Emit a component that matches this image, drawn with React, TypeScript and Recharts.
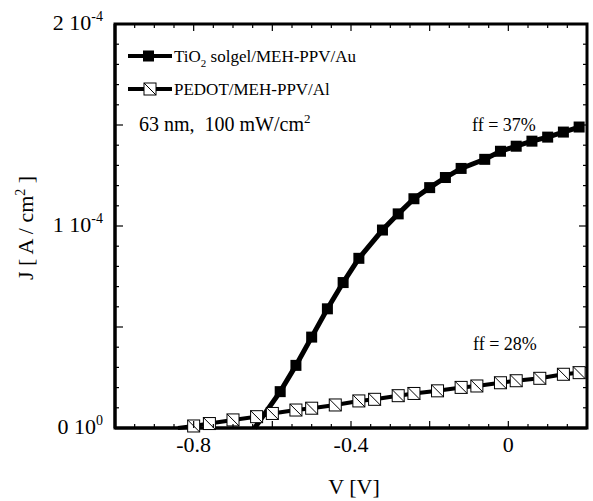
import React from 'react';
import { LineChart, Line, XAxis, YAxis, Customized } from 'recharts';

const FONT = '"Liberation Serif", "Times New Roman", Times, serif';

// Voltage [V] and current density [10^-4 A/cm^2]
const tio2V = [-0.645, -0.58, -0.54, -0.5, -0.46, -0.42, -0.38, -0.32, -0.28, -0.24, -0.2, -0.16, -0.12, -0.06, -0.02, 0.02, 0.06, 0.1, 0.14, 0.18];
const tio2J = [0, 0.18, 0.31, 0.45, 0.59, 0.72, 0.84, 0.98, 1.06, 1.135, 1.19, 1.24, 1.285, 1.33, 1.37, 1.395, 1.42, 1.44, 1.465, 1.49];

const pedotV = [-0.84, -0.8, -0.76, -0.7, -0.64, -0.6, -0.54, -0.5, -0.44, -0.38, -0.34, -0.28, -0.24, -0.18, -0.12, -0.08, -0.02, 0.02, 0.08, 0.14, 0.18];
const pedotJ = [0, 0.01, 0.022, 0.04, 0.056, 0.072, 0.089, 0.098, 0.114, 0.134, 0.142, 0.16, 0.171, 0.184, 0.201, 0.208, 0.224, 0.234, 0.246, 0.266, 0.274];

const seriesNames = ['TiO', 'PEDOT/MEH-PPV/Al'];
const annotations = ['63 nm,\u00A0 100 mW/cm', 'ff = 37%', 'ff = 28%'];

const X_DOMAIN = [-1, 0.2];
const Y_DOMAIN = [0, 2];
const xTicks = Array.from({ length: 25 }, (_, i) => Math.round((-1 + i * 0.05) * 100) / 100);
const xLabels = [
  { v: -0.8, text: '-0.8' },
  { v: -0.4, text: '-0.4' },
  { v: 0, text: '0' },
];
const yTicks = Array.from({ length: 21 }, (_, i) => Math.round(i * 0.1 * 10) / 10);
const yLabels = [
  { v: 0, base: '0 10', exp: '0' },
  { v: 1, base: '1 10', exp: '-4' },
  { v: 2, base: '2 10', exp: '-4' },
];

const tio2Data = tio2V.map((v, i) => ({ v, j: tio2J[i] }));
const pedotData = pedotV.map((v, i) => ({ v, j: pedotJ[i] }));

const W = 593;
const H = 501;
const PLOT_L = 115;
const PLOT_T = 24;
const PLOT_W = 472;
const PLOT_H = 404;

const near = (a: number, b: number) => Math.abs(a - b) < 1e-6;
const isXMajor = (v: number) => near(Math.round(v * 5), v * 5);
const isYMajor = (v: number) => near(Math.round(v * 2), v * 2);

const XTick = (props: any) => {
  const { x, y, payload } = props;
  const v = payload.value;
  const len = isXMajor(v) ? 7 : 4;
  const lab = xLabels.find((l) => near(l.v, v));
  return (
    <g>
      <line x1={x} x2={x} y1={y} y2={y - len} stroke="#000" strokeWidth={1.2} />
      {lab && (
        <text x={x} y={y + 24} textAnchor="middle" fontFamily={FONT} fontSize={22} fill="#000">
          {lab.text}
        </text>
      )}
    </g>
  );
};

const YTick = (props: any) => {
  const { x, y, payload } = props;
  const v = payload.value;
  const len = isYMajor(v) ? 8 : 4;
  const lab = yLabels.find((l) => near(l.v, v));
  return (
    <g>
      <line x1={x} x2={x + len} y1={y} y2={y} stroke="#000" strokeWidth={1.2} />
      {lab && (
        <text x={x - 12} y={y + 6} textAnchor="end" fontFamily={FONT} fontSize={22} fill="#000">
          {lab.base}
          <tspan dy={-9} fontSize={14}>{lab.exp}</tspan>
        </text>
      )}
    </g>
  );
};

const FilledDot = (p: any) => {
  const { cx, cy, payload, index } = p;
  if (cx == null || cy == null || payload.j <= 0) return <g key={`f${index}`} />;
  return <rect key={`f${index}`} x={cx - 5.5} y={cy - 5.5} width={11} height={11} fill="#000" />;
};

const OpenDot = (p: any) => {
  const { cx, cy, payload, index } = p;
  if (cx == null || cy == null || payload.j <= 0) return <g key={`o${index}`} />;
  return (
    <g key={`o${index}`}>
      <rect x={cx - 6} y={cy - 6} width={12} height={12} fill="#fff" stroke="#000" strokeWidth={1} />
      <line x1={cx - 6} y1={cy - 6} x2={cx + 6} y2={cy + 6} stroke="#000" strokeWidth={1} />
    </g>
  );
};

const xPos = (v: number) => PLOT_L + ((v - X_DOMAIN[0]) / (X_DOMAIN[1] - X_DOMAIN[0])) * PLOT_W;
const yPos = (v: number) => PLOT_T + PLOT_H - ((v - Y_DOMAIN[0]) / (Y_DOMAIN[1] - Y_DOMAIN[0])) * PLOT_H;

const Frame = () => (
  <g>
    {xTicks.map((v, i) => (
      <line key={`tx${i}`} x1={xPos(v)} x2={xPos(v)} y1={PLOT_T} y2={PLOT_T + (isXMajor(v) ? 7 : 4)} stroke="#000" strokeWidth={1.2} />
    ))}
    {yTicks.map((v, i) => (
      <line key={`ry${i}`} x1={PLOT_L + PLOT_W} x2={PLOT_L + PLOT_W - (isYMajor(v) ? 8 : 4)} y1={yPos(v)} y2={yPos(v)} stroke="#000" strokeWidth={1.2} />
    ))}
    <rect x={PLOT_L} y={PLOT_T} width={PLOT_W} height={PLOT_H} fill="none" stroke="#000" strokeWidth={3} />
  </g>
);

const Annotations = () => (
  <g fontFamily={FONT}>
    <Frame />
    <line x1={128} x2={172} y1={56} y2={56} stroke="#000" strokeWidth={4} />
    <rect x={143} y={50.5} width={11} height={11} fill="#000" />
    <text x={174} y={62} fontSize={17} fill="#000">
      {seriesNames[0]}
      <tspan dy={5} fontSize={11}>2</tspan>
      <tspan dy={-5}> solgel/MEH-PPV/Au</tspan>
    </text>

    <line x1={128} x2={172} y1={89} y2={89} stroke="#000" strokeWidth={4} />
    <rect x={144} y={83} width={12} height={12} fill="#fff" stroke="#000" strokeWidth={1} />
    <line x1={144} y1={83} x2={156} y2={95} stroke="#000" strokeWidth={1} />
    <text x={174} y={95} fontSize={17} fill="#000">{seriesNames[1]}</text>

    <text x={139} y={131} fontSize={20} fill="#000">
      {annotations[0]}
      <tspan dy={-8} fontSize={13}>2</tspan>
    </text>
    <text x={472} y={131} fontSize={18} fill="#000">{annotations[1]}</text>
    <text x={473} y={350} fontSize={18} fill="#000">{annotations[2]}</text>

    <text x={33} y={228} fontSize={22} fill="#000" textAnchor="middle" transform="rotate(-90 33 228)">
      J [ A / cm
      <tspan dy={-8} fontSize={14}>2</tspan>
      <tspan dy={8}> ]</tspan>
    </text>
    <text x={354} y={494} fontSize={22} fill="#000" textAnchor="middle">V [V]</text>
  </g>
);

export default function App() {
  return (
    <div style={{ position: 'absolute', left: 0, top: 0 }}>
      <LineChart width={W} height={H} margin={{ top: 24, right: 6, bottom: 23, left: 15 }}>
        <XAxis
          type="number"
          dataKey="v"
          domain={X_DOMAIN}
          ticks={xTicks}
          interval={0}
          height={50}
          tickSize={0}
          tickMargin={0}
          tickLine={false}
          tick={<XTick />}
          axisLine={{ stroke: '#000', strokeWidth: 3 }}
        />
        <YAxis
          type="number"
          domain={Y_DOMAIN}
          ticks={yTicks}
          interval={0}
          width={100}
          tickSize={0}
          tickMargin={0}
          tickLine={false}
          tick={<YTick />}
          axisLine={{ stroke: '#000', strokeWidth: 3 }}
        />
        <Line data={pedotData} dataKey="j" type="linear" stroke="#000" strokeWidth={4} dot={OpenDot} activeDot={false} isAnimationActive={false} />
        <Line data={tio2Data} dataKey="j" type="linear" stroke="#000" strokeWidth={5} dot={FilledDot} activeDot={false} isAnimationActive={false} />
        <Customized component={Annotations} />
      </LineChart>
    </div>
  );
}
